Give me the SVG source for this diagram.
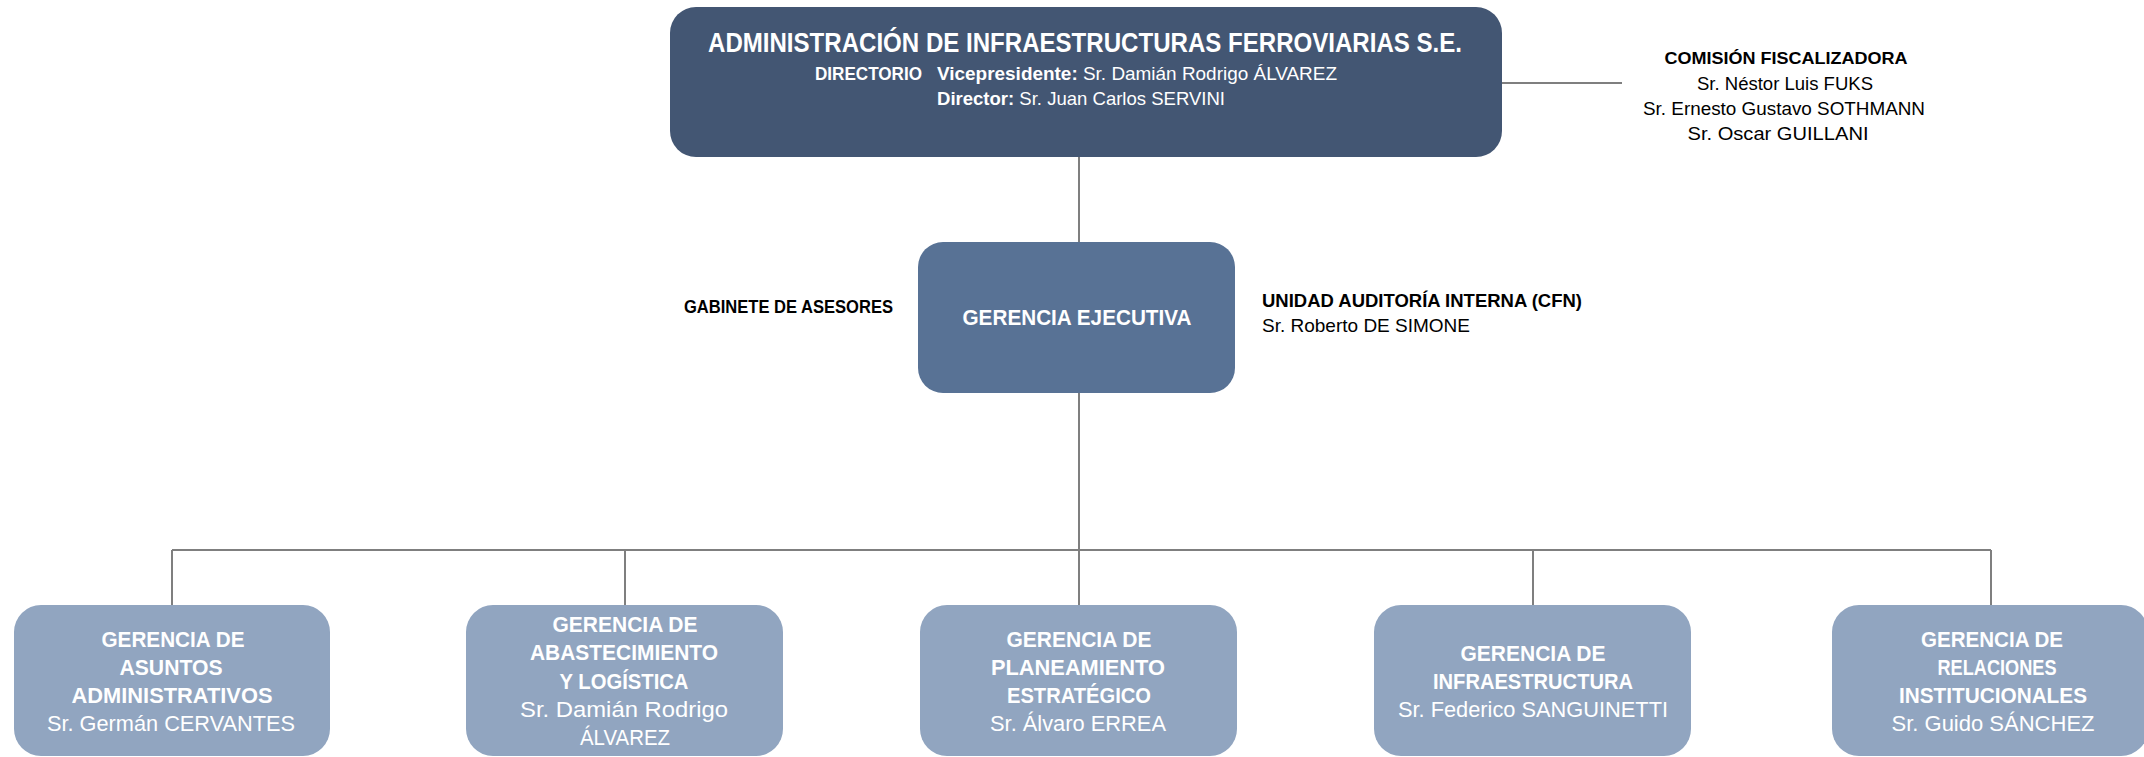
<svg xmlns="http://www.w3.org/2000/svg" width="2144" height="757" viewBox="0 0 2144 757">
<style>
text{font-family:"Liberation Sans",Arial,sans-serif}
.b{font-weight:bold}
.r{font-weight:normal}
.w{fill:#ffffff}
.k{fill:#000000}
.m{text-anchor:middle}
.conn{stroke:#7f7f7f;stroke-width:2;fill:none}
.top{fill:#435673}
.exec{fill:#587295}
.sub{fill:#91a5c0}
.s21{font-size:21.5px}
</style>
<rect width="2144" height="757" fill="#ffffff"/>
<g id="connectors">
<path class="conn" d="M1079,157 V242"/>
<path class="conn" d="M1079,393 V605"/>
<path class="conn" d="M172,550 H1991"/>
<path class="conn" d="M172,550 V605"/>
<path class="conn" d="M625,550 V605"/>
<path class="conn" d="M1533,550 V605"/>
<path class="conn" d="M1991,550 V605"/>
<path class="conn" d="M1502,83 H1622"/>
</g>
<g id="directorio">
<rect class="top" x="670" y="7" width="832" height="150" rx="26"/>
<text class="b w m" x="1085" y="52" font-size="27" textLength="754" lengthAdjust="spacingAndGlyphs">ADMINISTRACIÓN DE INFRAESTRUCTURAS FERROVIARIAS S.E.</text>
<text class="b w" x="815" y="80" font-size="19" textLength="107" lengthAdjust="spacingAndGlyphs">DIRECTORIO</text>
<text class="w" x="937" y="80" font-size="19" textLength="400" lengthAdjust="spacingAndGlyphs"><tspan class="b">Vicepresidente:</tspan><tspan class="r"> Sr. Damián Rodrigo ÁLVAREZ</tspan></text>
<text class="w" x="937" y="105" font-size="19" textLength="288" lengthAdjust="spacingAndGlyphs"><tspan class="b">Director:</tspan><tspan class="r"> Sr. Juan Carlos SERVINI</tspan></text>
</g>
<g id="comision">
<text class="b k m" x="1786" y="64" font-size="16.5" textLength="243" lengthAdjust="spacingAndGlyphs">COMISIÓN FISCALIZADORA</text>
<text class="r k m" x="1785" y="90" font-size="17.5" textLength="176" lengthAdjust="spacingAndGlyphs">Sr. Néstor Luis FUKS</text>
<text class="r k m" x="1784" y="115" font-size="17.5" textLength="282" lengthAdjust="spacingAndGlyphs">Sr. Ernesto Gustavo SOTHMANN</text>
<text class="r k m" x="1778" y="140" font-size="17.5" textLength="181" lengthAdjust="spacingAndGlyphs">Sr. Oscar GUILLANI</text>
</g>
<g id="gabinete">
<text class="b k" x="684" y="313" font-size="19" textLength="209" lengthAdjust="spacingAndGlyphs">GABINETE DE ASESORES</text>
</g>
<g id="gerencia-ejecutiva">
<rect class="exec" x="918" y="242" width="317" height="151" rx="25"/>
<text class="b w m" x="1077" y="325" font-size="21.5" textLength="229" lengthAdjust="spacingAndGlyphs">GERENCIA  EJECUTIVA</text>
</g>
<g id="auditoria">
<text class="b k" x="1262" y="307" font-size="19" textLength="320" lengthAdjust="spacingAndGlyphs">UNIDAD AUDITORÍA INTERNA (CFN)</text>
<text class="r k" x="1262" y="332" font-size="19" textLength="208" lengthAdjust="spacingAndGlyphs">Sr. Roberto DE SIMONE</text>
</g>
<g id="asuntos-administrativos">
<rect class="sub" x="14" y="605" width="316" height="151" rx="27"/>
<text class="b w m s21" x="173" y="647" textLength="143" lengthAdjust="spacingAndGlyphs">GERENCIA  DE</text>
<text class="b w m s21" x="171" y="675" textLength="103" lengthAdjust="spacingAndGlyphs">ASUNTOS</text>
<text class="b w m s21" x="172" y="703" textLength="201" lengthAdjust="spacingAndGlyphs">ADMINISTRATIVOS</text>
<text class="r w m s21" x="171" y="731" textLength="248" lengthAdjust="spacingAndGlyphs">Sr. Germán CERVANTES</text>
</g>
<g id="abastecimiento">
<rect class="sub" x="466" y="605" width="317" height="151" rx="27"/>
<text class="b w m s21" x="625" y="632" textLength="145" lengthAdjust="spacingAndGlyphs">GERENCIA  DE</text>
<text class="b w m s21" x="624" y="660" textLength="188" lengthAdjust="spacingAndGlyphs">ABASTECIMIENTO</text>
<text class="b w m s21" x="624" y="689" textLength="129" lengthAdjust="spacingAndGlyphs">Y LOGÍSTICA</text>
<text class="r w m s21" x="624" y="717" textLength="208" lengthAdjust="spacingAndGlyphs">Sr. Damián Rodrigo</text>
<text class="r w m s21" x="625" y="745" textLength="90" lengthAdjust="spacingAndGlyphs">ÁLVAREZ</text>
</g>
<g id="planeamiento">
<rect class="sub" x="920" y="605" width="317" height="151" rx="27"/>
<text class="b w m s21" x="1079" y="647" textLength="145" lengthAdjust="spacingAndGlyphs">GERENCIA  DE</text>
<text class="b w m s21" x="1078" y="675" textLength="174" lengthAdjust="spacingAndGlyphs">PLANEAMIENTO</text>
<text class="b w m s21" x="1079" y="703" textLength="144" lengthAdjust="spacingAndGlyphs">ESTRATÉGICO</text>
<text class="r w m s21" x="1078" y="731" textLength="176" lengthAdjust="spacingAndGlyphs">Sr. Álvaro ERREA</text>
</g>
<g id="infraestructura">
<rect class="sub" x="1374" y="605" width="317" height="151" rx="27"/>
<text class="b w m s21" x="1533" y="661" textLength="145" lengthAdjust="spacingAndGlyphs">GERENCIA  DE</text>
<text class="b w m s21" x="1533" y="689" textLength="200" lengthAdjust="spacingAndGlyphs">INFRAESTRUCTURA</text>
<text class="r w m s21" x="1533" y="717" textLength="270" lengthAdjust="spacingAndGlyphs">Sr. Federico SANGUINETTI</text>
</g>
<g id="relaciones">
<rect class="sub" x="1832" y="605" width="316" height="151" rx="27"/>
<text class="b w m s21" x="1992" y="647" textLength="142" lengthAdjust="spacingAndGlyphs">GERENCIA  DE</text>
<text class="b w m s21" x="1997" y="675" textLength="119" lengthAdjust="spacingAndGlyphs">RELACIONES</text>
<text class="b w m s21" x="1993" y="703" textLength="188" lengthAdjust="spacingAndGlyphs">INSTITUCIONALES</text>
<text class="r w m s21" x="1993" y="731" textLength="203" lengthAdjust="spacingAndGlyphs">Sr. Guido SÁNCHEZ</text>
</g>
</svg>
